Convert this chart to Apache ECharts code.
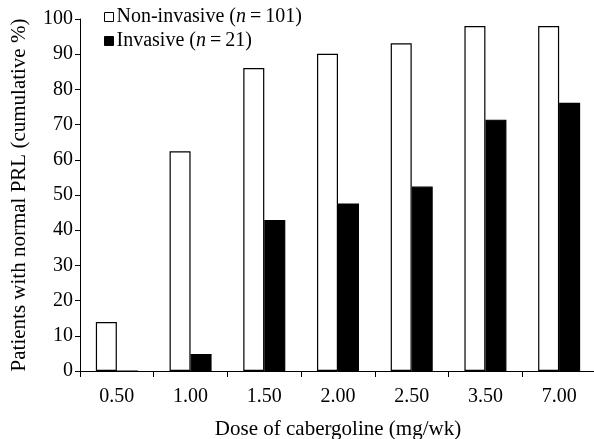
<!DOCTYPE html>
<html><head><meta charset="utf-8">
<script src="https://cdn.jsdelivr.net/npm/echarts@6/dist/echarts.min.js"></script>
<style>html,body{margin:0;padding:0;background:#fff}#c{width:594px;height:439px}</style>
</head><body><div id="c"></div>
<script>
const categories = ['0.50','1.00','1.50','2.00','2.50','3.50','7.00'];
const nonInvasive = [13.9, 62.4, 86.1, 90.1, 93.1, 98.0, 98.0];
const invasive = [0, 4.8, 42.9, 47.6, 52.4, 71.4, 76.2];
const yTicks = [0,10,20,30,40,50,60,70,80,90,100];
const FONT = '"Liberation Serif", "DejaVu Serif", serif';
const chart = echarts.init(document.getElementById('c'));
const rich = {i:{fontStyle:'italic', fontFamily:FONT, fontSize:20, color:'#000'}, t:{fontFamily:FONT, fontSize:20, color:'#000'}};
chart.setOption({
  animation:false,
  textStyle:{fontFamily:FONT},
  legend:{
    orient:'vertical', left:99, top:2, itemWidth:9, itemHeight:9, itemGap:4,
    icon:'rect',
    data:[
      {name:'Non-invasive', itemStyle:{color:'#fff', borderColor:'#000', borderWidth:1}},
      {name:'Invasive', itemStyle:{color:'#000', borderColor:'#000', borderWidth:1}}
    ],
    formatter:function(n){return n==='Non-invasive' ? '{t|Non-invasive (}{i|n}{t|\u2009=\u2009101)}' : '{t|Invasive (}{i|n}{t|\u2009=\u200921)}';},
    textStyle:{rich:rich, padding:[0,0,0,-2]}
  },
  grid:{left:80, right:-2, top:19, bottom:68, outerBoundsMode:'none', containLabel:false},
  xAxis:{
    type:'category', data:categories,
    axisLine:{lineStyle:{color:'#000', width:1}},
    axisTick:{show:true, length:6, lineStyle:{color:'#000'}},
    axisLabel:{color:'#000', fontSize:20, fontFamily:FONT, margin:16},
    name:'Dose of cabergoline (mg/wk)', nameLocation:'middle', nameGap:48,
    nameTextStyle:{color:'#000', fontSize:21, fontFamily:FONT}
  },
  yAxis:{
    type:'value', min:0, max:100, interval:10,
    axisLine:{show:true, lineStyle:{color:'#000', width:1}},
    axisTick:{show:true, length:5, lineStyle:{color:'#000'}},
    splitLine:{show:false},
    axisLabel:{color:'#000', fontSize:20, fontFamily:FONT, margin:7,
      formatter:function(v){return yTicks.indexOf(v)>=0 ? String(v) : '';}},
    name:'Patients with normal PRL (cumulative %)', nameLocation:'middle', nameGap:50,
    nameTextStyle:{color:'#000', fontSize:21, fontFamily:FONT}
  },
  series:[
    {name:'Non-invasive', type:'bar', data:nonInvasive, barGap:'0%', barCategoryGap:'43%',
      itemStyle:{color:'#fff', borderColor:'#000', borderWidth:1.2}},
    {name:'Invasive', type:'bar', data:invasive,
      itemStyle:{color:'#000', borderColor:'#000', borderWidth:1.2}}
  ]
});
</script></body></html>
